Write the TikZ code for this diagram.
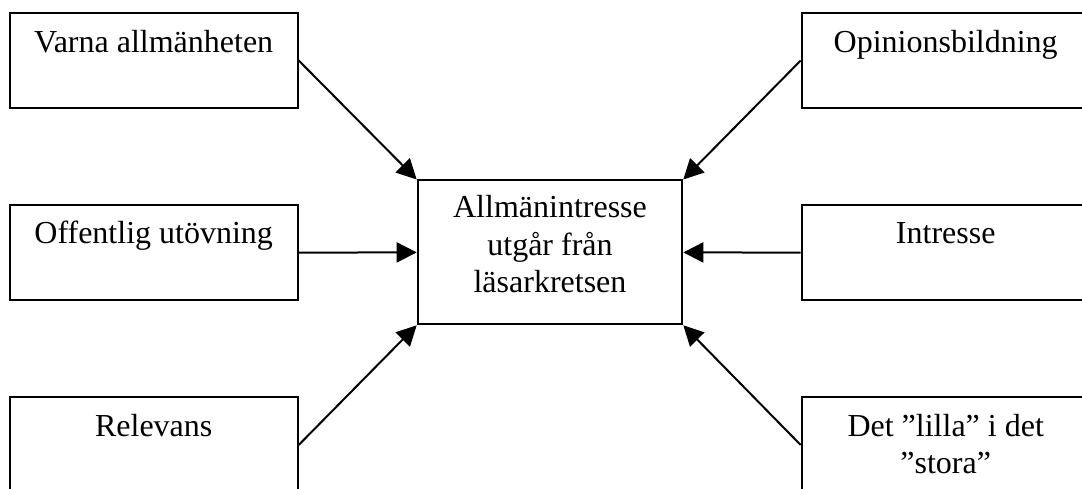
\documentclass[tikz,border=0pt]{standalone}
\usepackage{fontspec}
\setmainfont{Liberation Serif}
\usetikzlibrary{arrows.meta}
\begin{document}
\begin{tikzpicture}[x=1pt,y=-1pt,
  box/.style={draw=black, line width=2pt, rectangle, inner sep=0pt,
    minimum width=288pt, minimum height=95.6pt},
  centerbox/.style={draw=black, line width=2pt, rectangle, inner sep=0pt,
    minimum width=264.6pt, minimum height=143.8pt},
  lbl/.style={font=\fontsize{32}{37}\selectfont, align=center, inner sep=0pt, anchor=base},
  link/.style={line width=2pt, -{Triangle[length=20pt,width=20pt]}}]
\useasboundingbox (0,0) rectangle (1082,489);
\clip (0,0) rectangle (1082,489);

% outer boxes
\node[box] (vA) at (153.7,60.5) {};
\node[box] (oU) at (153.7,252.6) {};
\node[box] (rE) at (153.7,445) {};
\node[box] (oB) at (945.7,60.5) {};
\node[box] (iN) at (945.7,252.6) {};
\node[box] (lS) at (945.7,445) {};

% central box
\node[centerbox] (mid) at (550,252.4) {};

% labels (base anchor sits on the last line's baseline)
\node[lbl] (tvA) at ([yshift=-40.5pt]vA.north) {Varna allmänheten};
\node[lbl] (toU) at ([yshift=-39.5pt]oU.north) {Offentlig utövning};
\node[lbl] (trE) at ([yshift=-40pt]rE.north) {Relevans};
\node[lbl] (toB) at ([yshift=-40.5pt]oB.north) {Opinionsbildning};
\node[lbl] (tiN) at ([yshift=-39.5pt]iN.north) {Intresse};
\node[lbl] (tlS) at ([yshift=-77pt]lS.north) {Det ”lilla” i det\\”stora”};
\node[lbl] (tmid) at ([yshift=-112.5pt]mid.north) {Allmänintresse\\utgår från\\läsarkretsen};

% arrows towards the centre
\draw[link] (vA.east) -- (mid.north west);
\draw[link] (oU.east) -- (mid.west);
\draw[link] (rE.east) -- (mid.south west);
\draw[link] (oB.west) -- (mid.north east);
\draw[link] (iN.west) -- (mid.east);
\draw[link] (lS.west) -- (mid.south east);
\end{tikzpicture}
\end{document}
